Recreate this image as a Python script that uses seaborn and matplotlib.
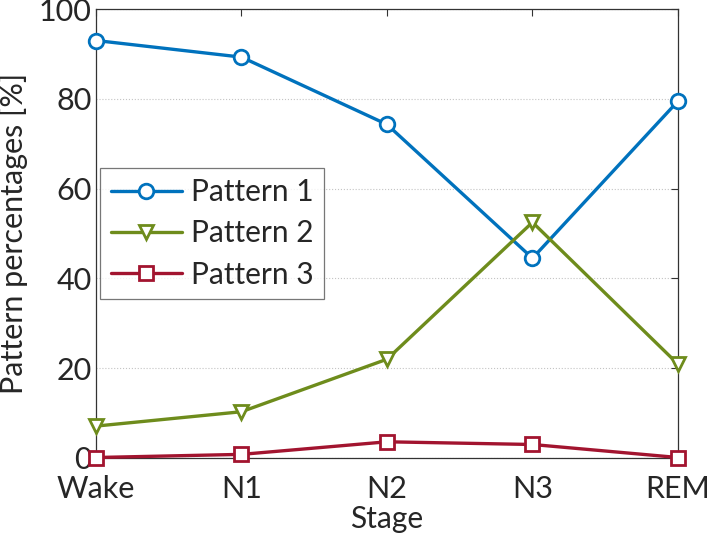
import pandas as pd
import matplotlib
matplotlib.use("Agg")
import matplotlib.pyplot as plt
import seaborn as sns

stages = ["Wake", "N1", "N2", "N3", "REM"]
pattern1 = [93.0, 89.3, 74.3, 44.5, 79.5]
pattern2 = [7.1, 10.3, 22.0, 52.5, 20.9]
pattern3 = [0.1, 0.8, 3.6, 3.0, 0.1]
series_names = ["Pattern 1", "Pattern 2", "Pattern 3"]
colors = ["#0072BD", "#6E8C1C", "#A2142F"]
markers = ["o", "v", "s"]

sns.set_style("white")
plt.rcParams['font.family'] = ['Lato', 'DejaVu Sans']

df = pd.DataFrame({
    "Stage": stages * 3,
    "value": pattern1 + pattern2 + pattern3,
    "series": [n for n in series_names for _ in stages],
})

fig = plt.figure(figsize=(7.08, 5.35), dpi=100)
ax = fig.add_axes([0.1356, 0.144, 0.822, 0.839])

for name, c, m in zip(series_names, colors, markers):
    sub = df[df["series"] == name]
    sns.lineplot(data=sub, x="Stage", y="value", ax=ax, color=c, marker=m,
                 markersize=10.5, markerfacecolor="white", markeredgecolor=c,
                 markeredgewidth=2, linewidth=2.4, label=name, sort=False,
                 clip_on=False, zorder=3)

ax.set_xlim(0, 4)
ax.set_ylim(0, 100)
ax.set_yticks([0, 20, 40, 60, 80, 100])
ax.set_xticks(range(len(stages)))
ax.set_xticklabels(stages)
ax.yaxis.grid(True, linestyle=":", color="#c4c4c4", linewidth=0.8)
ax.set_axisbelow(True)
for sp in ax.spines.values():
    sp.set_color("#333333")
    sp.set_linewidth(0.9)
ax.tick_params(direction="in", length=5, width=0.8, top=True, right=True,
               labelsize=22, color="#333333")
ax.tick_params(axis="x", pad=12)
ax.tick_params(axis="y", pad=3)
ax.set_xlabel("Stage", fontsize=21.5, labelpad=2)
ax.set_ylabel("Pattern percentages [%]", fontsize=22, labelpad=8)

leg = ax.legend(loc="upper left", bbox_to_anchor=(0.007, 0.647), fontsize=21.5,
                frameon=True, fancybox=False, edgecolor="#555555",
                handlelength=2.4, borderpad=0.35, labelspacing=0.45,
                handletextpad=0.3, borderaxespad=0)
leg.get_frame().set_linewidth(0.9)

fig.savefig("out.png", dpi=100)
